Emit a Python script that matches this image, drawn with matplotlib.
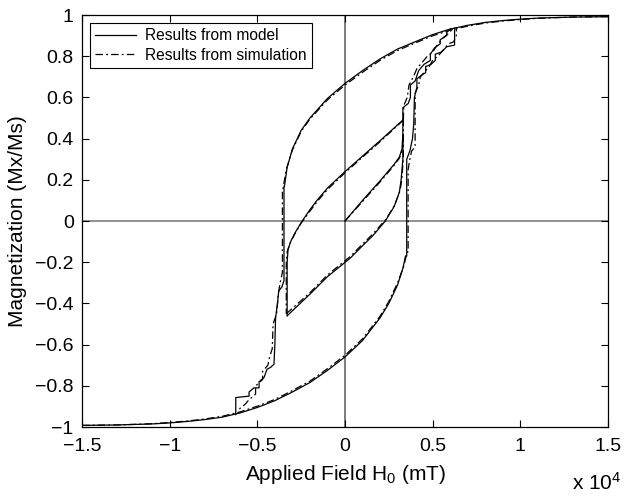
import matplotlib
matplotlib.use("Agg")
import matplotlib.pyplot as plt
from matplotlib.ticker import FixedLocator, FuncFormatter

plt.rcParams['font.family'] = ['Liberation Sans', 'DejaVu Sans']
plt.rcParams['mathtext.fontset'] = 'custom'
plt.rcParams['mathtext.rm'] = 'Liberation Sans'
plt.rcParams['mathtext.it'] = 'Liberation Sans'

# ---------------- data (field in units of 1e4 mT, magnetization Mx/Ms) -------------
# Model: upper (descending) saturation branch
model_upper_x = [1.5, 1.3, 1.1, 1.0, 0.9, 0.8, 0.7, 0.6, 0.5, 0.4, 0.3, 0.2, 0.1, 0.0,
                 -0.1, -0.2, -0.25, -0.3, -0.33, -0.345]
model_upper_m = [0.992, 0.99, 0.985, 0.98, 0.973, 0.964, 0.95, 0.932, 0.905, 0.87, 0.835,
                 0.787, 0.73, 0.668, 0.595, 0.50, 0.44, 0.35, 0.26, 0.17]
# Model: descending staircase (lower left)
model_stairL_x = [-0.348, -0.348, -0.36, -0.378, -0.385, -0.396, -0.40, -0.405, -0.424,
                  -0.445, -0.462, -0.49, -0.49, -0.52, -0.547, -0.547, -0.623, -0.623]
model_stairL_m = [0.17, -0.29, -0.32, -0.34, -0.40, -0.47, -0.60, -0.695, -0.71,
                  -0.72, -0.76, -0.78, -0.81, -0.81, -0.83, -0.85, -0.857, -0.94]
# Model: lower (ascending) saturation branch
model_lower_x = [-1.5, -1.3, -1.1, -1.0, -0.9, -0.8, -0.7, -0.6, -0.5, -0.4, -0.3, -0.2, -0.1,
                 0.0, 0.1, 0.2, 0.25, 0.3, 0.33, 0.345]
model_lower_m = [-0.992, -0.99, -0.985, -0.98, -0.973, -0.964, -0.952, -0.932, -0.905, -0.872,
                 -0.83, -0.784, -0.725, -0.66, -0.58, -0.47, -0.40, -0.31, -0.23, -0.17]
# Model: ascending staircase after the lower branch (upper right, outer)
model_stairR_x = [0.352, 0.352, 0.37, 0.385, 0.392, 0.396, 0.41, 0.41, 0.44, 0.46, 0.46,
                  0.49, 0.515, 0.515, 0.55, 0.58, 0.625, 0.625]
model_stairR_m = [-0.17, 0.30, 0.34, 0.40, 0.47, 0.60, 0.65, 0.69, 0.71, 0.72, 0.75,
                  0.76, 0.78, 0.81, 0.82, 0.846, 0.854, 0.935]
# Model: initial curve and minor loop
model_init_x = [0.0, 0.1, 0.2, 0.28, 0.31, 0.325, 0.33]
model_init_m = [0.0, 0.10, 0.195, 0.275, 0.31, 0.35, 0.42]
model_minor_dn_x = [0.33, 0.2, 0.1, 0.0, -0.1, -0.16, -0.2, -0.244, -0.28, -0.31, -0.325,
                    -0.33, -0.33]
model_minor_dn_m = [0.49, 0.39, 0.315, 0.24, 0.16, 0.10, 0.055, 0.0, -0.05, -0.10, -0.14,
                    -0.20, -0.46]
model_minor_up_x = [-0.33, -0.2, -0.1, 0.03, 0.1, 0.16, 0.23, 0.28, 0.31, 0.32, 0.33, 0.33]
model_minor_up_m = [-0.46, -0.355, -0.27, -0.18, -0.12, -0.07, 0.0, 0.07, 0.14, 0.20, 0.30,
                    0.49]
# Model: ascending staircase leaving the minor loop (upper right, inner)
model_stairM_x = [0.33, 0.33, 0.36, 0.373, 0.373, 0.40, 0.42, 0.45, 0.487, 0.487, 0.51,
                  0.543, 0.543, 0.58, 0.58, 0.60]
model_stairM_m = [0.49, 0.55, 0.57, 0.60, 0.66, 0.68, 0.73, 0.76, 0.78, 0.81, 0.84,
                  0.86, 0.88, 0.90, 0.915, 0.932]

# Simulation
sim_upper_x = [1.5, 1.3, 1.1, 1.0, 0.9, 0.8, 0.7, 0.6, 0.5, 0.4, 0.3, 0.2, 0.1, 0.0,
               -0.1, -0.2, -0.25, -0.3, -0.335, -0.355]
sim_upper_m = [0.992, 0.99, 0.984, 0.978, 0.971, 0.961, 0.946, 0.927, 0.899, 0.864, 0.828,
               0.78, 0.722, 0.66, 0.588, 0.495, 0.435, 0.345, 0.25, 0.15]
sim_stairL_x = [-0.357, -0.357, -0.37, -0.38, -0.39, -0.41, -0.415, -0.43, -0.44, -0.47,
                -0.47, -0.51, -0.51, -0.55, -0.57, -0.60, -0.60]
sim_stairL_m = [0.15, -0.25, -0.30, -0.35, -0.45, -0.50, -0.62, -0.66, -0.70, -0.73,
                -0.77, -0.80, -0.84, -0.87, -0.89, -0.91, -0.93]
sim_lower_x = [-1.5, -1.3, -1.1, -1.0, -0.9, -0.8, -0.7, -0.6, -0.5, -0.4, -0.3, -0.2, -0.1,
               0.0, 0.1, 0.2, 0.25, 0.3, 0.335, 0.355]
sim_lower_m = [-0.992, -0.99, -0.984, -0.978, -0.971, -0.961, -0.948, -0.927, -0.899, -0.866,
               -0.823, -0.777, -0.717, -0.652, -0.572, -0.462, -0.39, -0.30, -0.22, -0.15]
sim_stairR_x = [0.36, 0.36, 0.37, 0.38, 0.40, 0.40, 0.42, 0.43, 0.46, 0.48, 0.50, 0.53,
                0.56, 0.59, 0.62, 0.635, 0.635]
sim_stairR_m = [-0.15, 0.25, 0.30, 0.34, 0.36, 0.62, 0.66, 0.70, 0.73, 0.75, 0.78, 0.80,
                0.83, 0.86, 0.87, 0.90, 0.94]
sim_init_x = [0.0, 0.1, 0.2, 0.28, 0.31, 0.328, 0.333]
sim_init_m = [0.0, 0.095, 0.19, 0.27, 0.305, 0.35, 0.42]
sim_minor_dn_x = [0.333, 0.2, 0.1, 0.0, -0.1, -0.16, -0.2, -0.25, -0.285, -0.315, -0.33,
                  -0.335, -0.335]
sim_minor_dn_m = [0.49, 0.385, 0.31, 0.234, 0.153, 0.093, 0.048, -0.01, -0.06, -0.11, -0.15,
                  -0.21, -0.45]
sim_minor_up_x = [-0.335, -0.2, -0.1, 0.03, 0.1, 0.16, 0.235, 0.285, 0.315, 0.325, 0.333,
                  0.333]
sim_minor_up_m = [-0.45, -0.348, -0.262, -0.172, -0.112, -0.062, 0.01, 0.08, 0.15, 0.21,
                  0.31, 0.49]
sim_stairM_x = [0.333, 0.335, 0.355, 0.365, 0.39, 0.41, 0.44, 0.47, 0.50, 0.53, 0.56,
                0.59, 0.61]
sim_stairM_m = [0.49, 0.56, 0.60, 0.66, 0.70, 0.74, 0.77, 0.80, 0.82, 0.86, 0.89,
                0.91, 0.93]

x_ticks = [-1.5, -1, -0.5, 0, 0.5, 1, 1.5]
y_ticks = [-1, -0.8, -0.6, -0.4, -0.2, 0, 0.2, 0.4, 0.6, 0.8, 1]

# ---------------- figure ---------------
fig = plt.figure(figsize=(6.25, 4.97), dpi=100)
ax = fig.add_axes([0.1312, 0.1408, 0.8416, 0.829])

ax.axhline(0, color='0.45', lw=1.1, zorder=1)
ax.axvline(0, color='0.35', lw=1.1, zorder=1)

lw = 0.9
model_kw = dict(color='black', lw=lw, ls='-', zorder=3)
sim_kw = dict(color='black', lw=lw, ls=(0, (6, 2.5, 1.5, 2.5)), zorder=2)

first = True
for xs, ms in [(model_upper_x + model_stairL_x, model_upper_m + model_stairL_m),
               (model_lower_x + model_stairR_x, model_lower_m + model_stairR_m),
               (model_init_x, model_init_m),
               (model_minor_dn_x, model_minor_dn_m),
               (model_minor_up_x, model_minor_up_m),
               (model_stairM_x, model_stairM_m)]:
    ax.plot(xs, ms, label='Results from model' if first else None, **model_kw)
    first = False

first = True
for xs, ms in [(sim_upper_x + sim_stairL_x, sim_upper_m + sim_stairL_m),
               (sim_lower_x + sim_stairR_x, sim_lower_m + sim_stairR_m),
               (sim_init_x, sim_init_m),
               (sim_minor_dn_x, sim_minor_dn_m),
               (sim_minor_up_x, sim_minor_up_m),
               (sim_stairM_x, sim_stairM_m)]:
    ax.plot(xs, ms, label='Results from simulation' if first else None, **sim_kw)
    first = False

ax.set_xlim(-1.5, 1.5)
ax.set_ylim(-1, 1)
ax.xaxis.set_major_locator(FixedLocator(x_ticks))
ax.yaxis.set_major_locator(FixedLocator(y_ticks))
fmt = FuncFormatter(lambda v, p: ('%g' % v).replace('-', '\u2212'))
ax.xaxis.set_major_formatter(fmt)
ax.yaxis.set_major_formatter(fmt)
ax.tick_params(direction='in', length=5, width=0.8, top=True, right=True,
               labelsize=14)
ax.tick_params(axis='x', pad=8)
ax.tick_params(axis='y', pad=6)
for s in ax.spines.values():
    s.set_linewidth(0.9)

ax.set_xlabel('Applied Field H$_0$ (mT)', fontsize=15, labelpad=6)
ax.set_ylabel('Magnetization (Mx/Ms)', fontsize=15, labelpad=6)
fig.text(0.955, 0.006, 'x 10$^4$', fontsize=15, ha='center', va='bottom')

leg = ax.legend(loc='upper left', fontsize=11.2, frameon=True, fancybox=False,
                edgecolor='black', framealpha=1, borderaxespad=0.5,
                handlelength=2.6, handletextpad=0.6, borderpad=0.35, labelspacing=0.3)
leg.get_frame().set_linewidth(0.8)

fig.savefig('out.png', dpi=100)
